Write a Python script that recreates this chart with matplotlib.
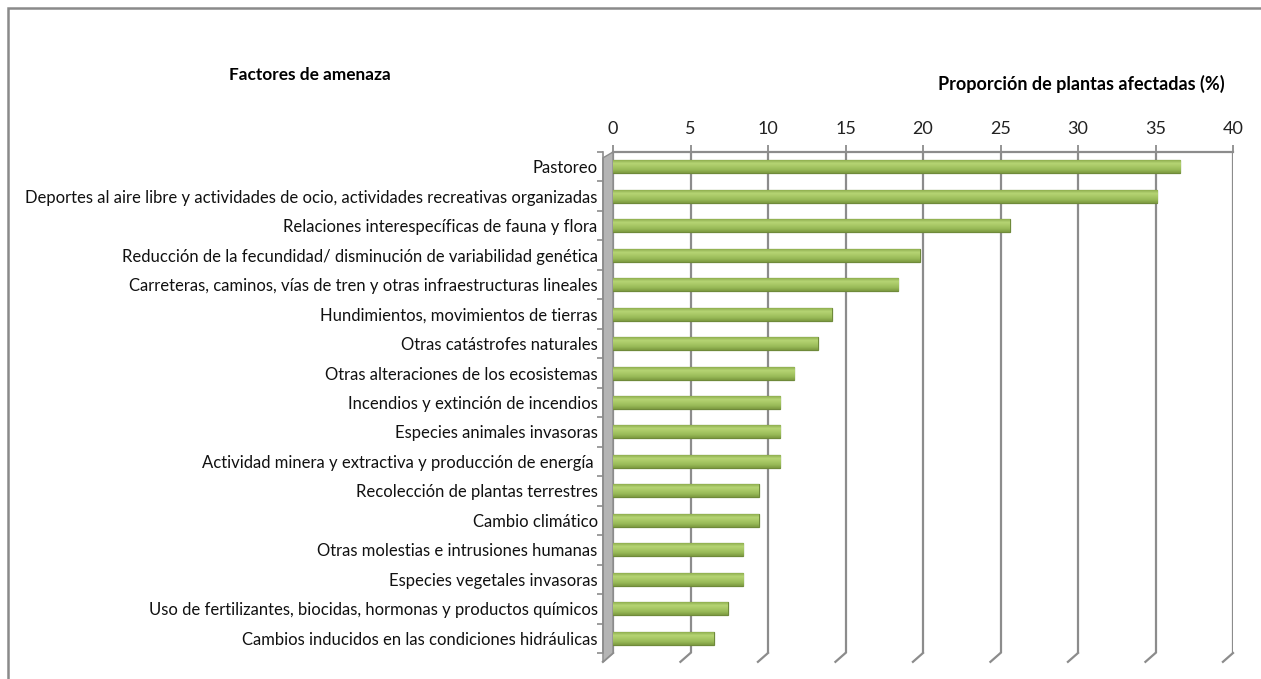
import numpy as np
import matplotlib
matplotlib.use('Agg')
import matplotlib.pyplot as plt
from matplotlib.patches import Polygon, Rectangle
from matplotlib.colors import LinearSegmentedColormap

plt.rcParams['font.family'] = ['Lato', 'DejaVu Sans']

# threat factors, top to bottom
factores = [
    'Pastoreo',
    'Deportes al aire libre y actividades de ocio, actividades recreativas organizadas',
    'Relaciones interespecíficas de fauna y flora',
    'Reducción de la fecundidad/ disminución de variabilidad genética',
    'Carreteras, caminos, vías de tren y otras infraestructuras lineales',
    'Hundimientos, movimientos de tierras',
    'Otras catástrofes naturales',
    'Otras alteraciones de los ecosistemas',
    'Incendios y extinción de incendios',
    'Especies animales invasoras',
    'Actividad minera y extractiva y producción de energía ',
    'Recolección de plantas terrestres',
    'Cambio climático',
    'Otras molestias e intrusiones humanas',
    'Especies vegetales invasoras',
    'Uso de fertilizantes, biocidas, hormonas y productos químicos',
    'Cambios inducidos en las condiciones hidráulicas',
]
# % of affected plants
proporcion = [36.6, 35.1, 25.6, 19.8, 18.4, 14.1, 13.2, 11.7, 10.8, 10.8, 10.8,
              9.4, 9.4, 8.4, 8.4, 7.4, 6.5]
xticks = [0, 5, 10, 15, 20, 25, 30, 35, 40]

W, H = 1261, 679
fig = plt.figure(figsize=(W / 100, H / 100), dpi=100)
ax = fig.add_axes([613 / W, 1 - 653 / H, 620 / W, 501 / H])

y = np.arange(len(factores))
bars = ax.barh(y, proporcion, height=0.44, color='#9bbb59', edgecolor='#6f8a3a',
               linewidth=0.9, zorder=3)

# vertical shading on each bar, like the excel cylinder look
cmap = LinearSegmentedColormap.from_list('g', ['#8fae4f', '#b6d474', '#a8c865', '#98b957', '#7d9b41'])
grad = np.linspace(0, 1, 64).reshape(-1, 1)
for b in bars:
    x0, y0 = b.get_x(), b.get_y()
    im = ax.imshow(grad, cmap=cmap, aspect='auto', zorder=3.5,
                   extent=(x0, x0 + b.get_width(), y0 + b.get_height(), y0))
    im.set_clip_path(b)

ax.set_xlim(0, 40)
ax.set_ylim(len(factores) - 0.5, -0.5)
ax.set_xticks(xticks)
ax.xaxis.tick_top()
ax.tick_params(axis='x', length=5, color='#8c8c8c', width=1.3, labelsize=13,
               labelcolor='#222222', pad=6)
ax.grid(axis='x', color='#8c8c8c', lw=1.6, zorder=1)
ax.set_axisbelow(True)

ax.set_yticks(y)
ax.set_yticklabels(factores)
ax.set_yticks(np.arange(len(factores) + 1) - 0.5, minor=True)
ax.tick_params(axis='y', which='major', length=0, pad=4, labelsize=12,
               labelcolor='#111111')
ax.tick_params(axis='y', which='minor', length=4, color='#8c8c8c', width=1.2)

for s in ['right', 'bottom']:
    ax.spines[s].set_visible(False)
ax.spines['top'].set_color('#8c8c8c')
ax.spines['top'].set_linewidth(1.6)
ax.spines['left'].set_position(('outward', 7))
ax.spines['left'].set_color('#8c8c8c')
ax.spines['left'].set_linewidth(1.2)

# side wall and floor feet of the 3d frame
wall = Polygon([(-0.65, -0.3), (0, -0.5), (0, 16.5), (-0.65, 16.8)],
               closed=True, facecolor='#b4b4b4', edgecolor='#8c8c8c', lw=1.0,
               clip_on=False, zorder=2)
ax.add_patch(wall)
for xt in xticks:
    ax.plot([xt, xt - 0.65], [16.5, 16.8], color='#8c8c8c', lw=1.6,
            clip_on=False, zorder=1)

fig.text(229 / W, 1 - 75 / H, 'Factores de amenaza', fontsize=12.4,
         fontweight='bold', va='center', ha='left')
fig.text(1225 / W, 1 - 84 / H, 'Proporción de plantas afectadas (%)', fontsize=13,
         fontweight='bold', va='center', ha='right')

# outer frame (only top and left are visible in the crop)
fig.add_artist(Rectangle((8 / W, -0.1), 1.2, 1 - 8 / H + 0.1, transform=fig.transFigure,
                         fill=False, edgecolor='#8a8a8a', lw=1.8))

fig.savefig('out.png', dpi=100)
